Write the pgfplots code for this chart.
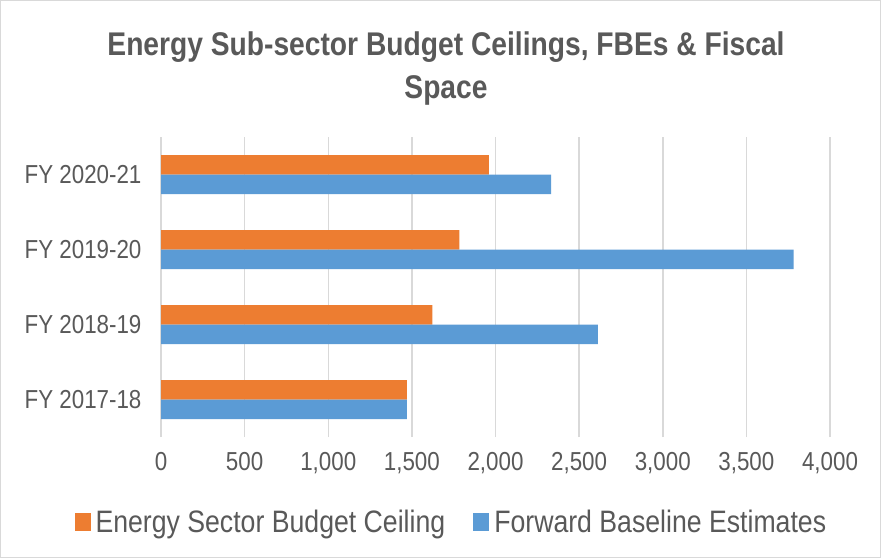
\documentclass[border=0pt]{standalone}
\usepackage{pgfplots}
\pgfplotsset{compat=1.18}
\usepackage{fontspec}
\setmainfont{Liberation Sans}[FakeStretch=0.86]
\definecolor{corange}{HTML}{ED7D31}
\definecolor{cblue}{HTML}{5B9BD5}
\definecolor{ctext}{HTML}{595959}
\definecolor{cgrid}{HTML}{D9D9D9}
\begin{document}
\begin{tikzpicture}[x=1pt,y=1pt]
\path[draw=cgrid, line width=1pt, fill=white] (0.5,0.5) rectangle (880.5,557.5);
\node[align=center, font=\fontsize{32.8}{43}\selectfont\bfseries, text=ctext] at (446,489) {Energy Sub-sector Budget Ceilings, FBEs \& Fiscal\\Space};
\begin{axis}[at={(161pt,121pt)}, anchor=south west, scale only axis,
  width=669pt, height=300pt,
  xbar, xmin=0, xmax=4000, ymin=-0.5, ymax=3.5,
  ytick={0,1,2,3},
  yticklabels={FY 2017-18, FY 2018-19, FY 2019-20, FY 2020-21},
  xtick={0,500,...,4000},
  xmajorgrids, grid style={cgrid, line width=1.5pt},
  axis line style={draw=none}, major tick length=0pt,
  ticklabel style={font=\fontsize{26}{30}\selectfont, text=ctext},
  yticklabel style={xshift=-16pt},
  xticklabel style={yshift=-12pt},
  /pgf/number format/assume math mode=true,
  /pgf/number format/1000 sep={,},
  bar width=0.26,
  legend image code/.code={\fill[#1] (0pt,-9pt) rectangle (16pt,9pt);},
  legend columns=2,
  legend style={at={(0.434,-0.283)}, anchor=center, draw=none, fill=none,
    font=\fontsize{31}{36}\selectfont, text=ctext,
    /tikz/every even column/.append style={column sep=26pt}},
]
\addplot[fill=corange, draw=none, bar shift=0.13] coordinates {(1470,0) (1622,1) (1784,2) (1961,3)};
\addplot[fill=cblue, draw=none, bar shift=-0.13] coordinates {(1470,0) (2612,1) (3783,2) (2333,3)};
\legend{\hspace{3pt}Energy Sector Budget Ceiling, \hspace{3pt}Forward Baseline Estimates}
\end{axis}
\end{tikzpicture}
\end{document}
